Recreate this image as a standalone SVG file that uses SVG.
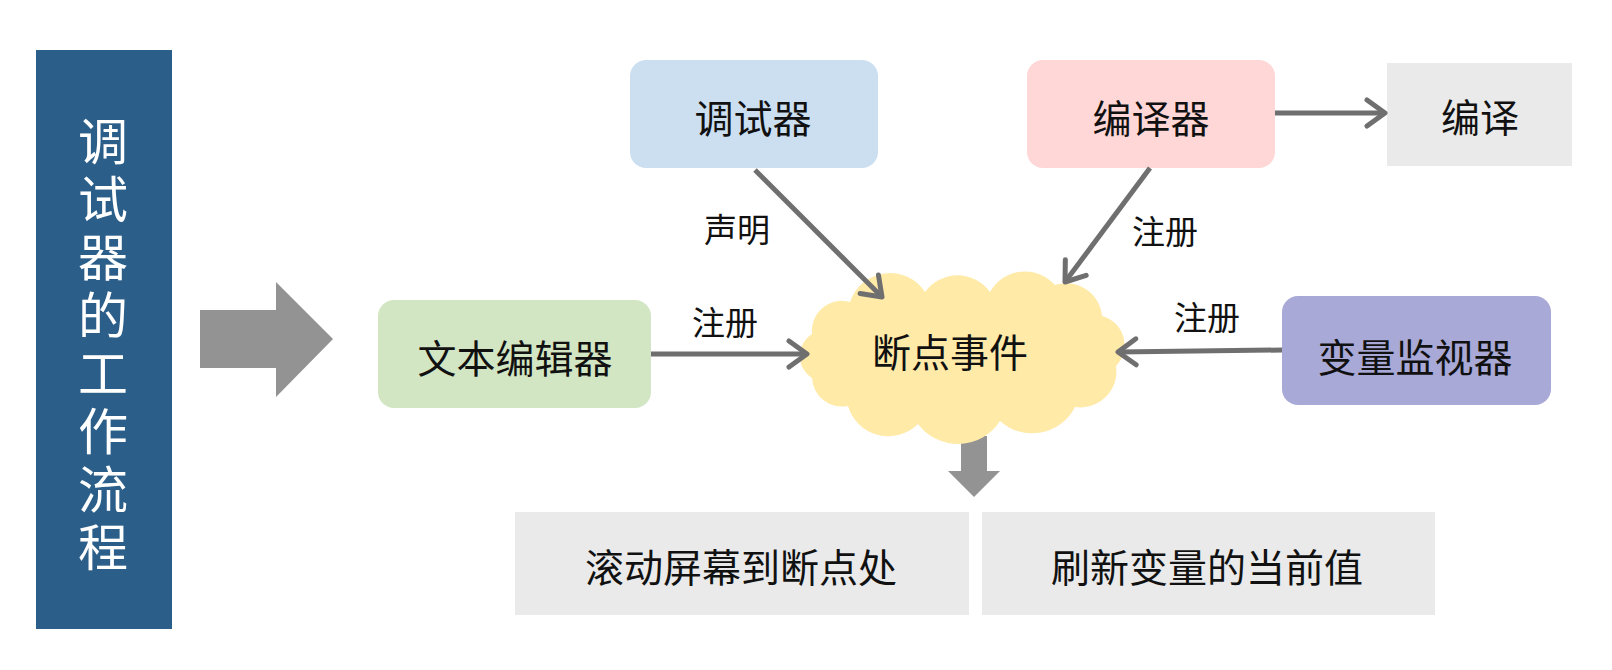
<svg xmlns="http://www.w3.org/2000/svg" width="1612" height="670" viewBox="0 0 1612 670">
<style>
text{font-family:"Noto Sans CJK SC","Noto Sans",sans-serif;text-anchor:middle;fill:#111}
.t{font-size:39px}
.lbl{font-size:33px}
.side{font-size:50px;fill:#fff;writing-mode:vertical-rl;text-orientation:upright;letter-spacing:8px}
.conn{stroke:#6f6f6f;stroke-width:5;fill:none;marker-end:url(#ah)}
.block{fill:#939393}
</style>
<defs>
<marker id="ah" viewBox="-22 -17 26 34" refX="0" refY="0" markerWidth="26" markerHeight="34" markerUnits="userSpaceOnUse" orient="auto">
<path d="M-18,-13 L0,0 L-18,13" fill="none" stroke="#6f6f6f" stroke-width="5" stroke-linecap="round" stroke-linejoin="round"/>
</marker>
</defs>
<rect width="1612" height="670" fill="#fff"/>
<g id="title">
<rect x="36" y="50" width="136" height="579" fill="#2B5F8A"/>
<text class="side" x="103" y="348">调试器的工作流程</text>
</g>
<g id="bigArrow"><polygon class="block" points="200,310 276,310 276,282 333,339 276,397 276,368 200,368"/></g>
<g id="downArrow"><polygon class="block" points="961,436 987,436 987,471 1000,471 974,497 948,471 961,471"/></g>
<g id="debugger"><rect x="630" y="60" width="248" height="108" rx="16" fill="#CCDFF1"/><text class="t" x="753" y="133">调试器</text></g>
<g id="compiler"><rect x="1027" y="60" width="248" height="108" rx="16" fill="#FFD7D7"/><text class="t" x="1151" y="133">编译器</text></g>
<g id="compile"><rect x="1387" y="63" width="185" height="103" fill="#EAEAEA"/><text class="t" x="1480" y="132">编译</text></g>
<g id="editor"><rect x="378" y="300" width="273" height="108" rx="16" fill="#D2E6C4"/><text class="t" x="515" y="373">文本编辑器</text></g>
<g id="watcher"><rect x="1282" y="296" width="269" height="109" rx="16" fill="#A8A9D6"/><text class="t" x="1415" y="372">变量监视器</text></g>
<g id="event">
<path d="M812,334 A30,30 0 0 1 850,302 A42,42 0 0 1 925,292 A40,40 0 0 1 990,292 A40,40 0 0 1 1055,285 A36,36 0 0 1 1102,316 A30,30 0 0 1 1116,366 A36,36 0 0 1 1075,407 A48,48 0 0 1 1000,421 A50,50 0 0 1 918,424 A42,42 0 0 1 848,406 A30,30 0 0 1 812,378 A26,26 0 0 1 812,334 Z" fill="#FFEAA8"/>
<text class="t" x="950" y="367">断点事件</text>
</g>
<g id="scroll"><rect x="515" y="512" width="454" height="103" fill="#EAEAEA"/><text class="t" x="741" y="582">滚动屏幕到断点处</text></g>
<g id="refresh"><rect x="982" y="512" width="453" height="103" fill="#EAEAEA"/><text class="t" x="1207" y="582">刷新变量的当前值</text></g>
<g id="connectors">
<line class="conn" x1="755" y1="170" x2="882" y2="297"/>
<line class="conn" x1="1150" y1="168" x2="1065" y2="282"/>
<line class="conn" x1="651" y1="354" x2="807" y2="354"/>
<line class="conn" x1="1282" y1="350" x2="1118" y2="352"/>
<line class="conn" x1="1275" y1="113" x2="1385" y2="113"/>
<text class="lbl" x="737" y="242">声明</text>
<text class="lbl" x="1165" y="244">注册</text>
<text class="lbl" x="725" y="335">注册</text>
<text class="lbl" x="1207" y="330">注册</text>
</g>
</svg>
